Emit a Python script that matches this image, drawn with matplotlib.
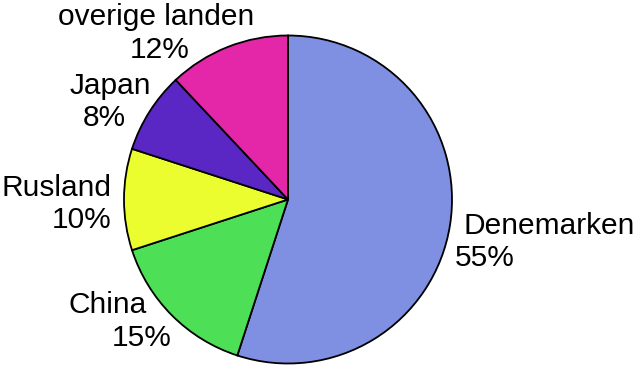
import matplotlib.pyplot as plt

landen = ['Denemarken', 'China', 'Rusland', 'Japan', 'overige landen']
aandeel = [55, 15, 10, 8, 12]
kleuren = ['#7f8fe2', '#4ddf55', '#ecfd2f', '#5a26c4', '#e427a8']

H = 366
# label lines: (text, left x, center y from top) in pixel coords
labels = [
    ('overige landen', 58, 17), ('12%', 130, 50),
    ('Japan', 70, 86), ('8%', 83, 118),
    ('Rusland', 2, 188), ('10%', 52, 220),
    ('China', 68, 305), ('15%', 112, 338),
    ('Denemarken', 463, 226), ('55%', 455, 258),
]

fig = plt.figure(figsize=(6.34, 3.66), dpi=100)
ax = fig.add_axes([0, 0, 1, 1])

ax.pie(aandeel, colors=kleuren, startangle=90, counterclock=False,
       center=(288, H - 199.5), radius=164, frame=True,
       wedgeprops=dict(edgecolor='black', linewidth=1.3))
ax.set_xlim(0, 634)
ax.set_ylim(0, H)
ax.set_aspect('equal')
ax.axis('off')

for txt, x, y in labels:
    ax.text(x, H - y, txt, ha='left', va='center', fontsize=21.5,
            family='Liberation Sans', color='black')

fig.savefig('out.png', dpi=100)
